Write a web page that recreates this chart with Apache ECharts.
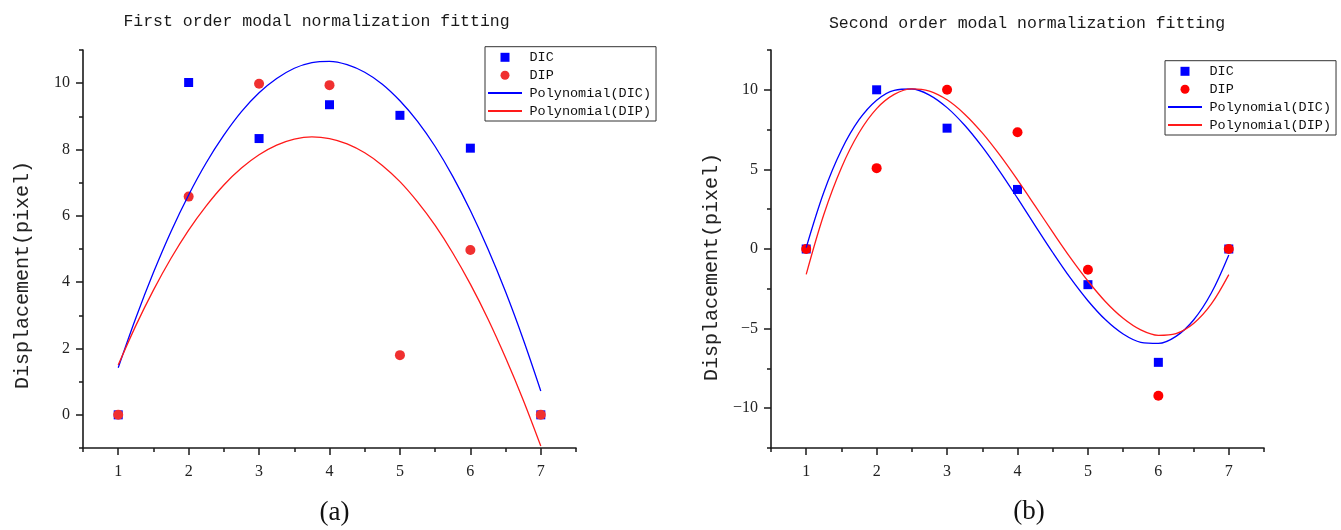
<!DOCTYPE html>
<html>
<head>
<meta charset="utf-8">
<title>Modal normalization fitting</title>
<script src="https://cdn.jsdelivr.net/npm/echarts@6/dist/echarts.min.js"></script>
<style>
  html, body { margin: 0; padding: 0; background: #fff; }
  #chart { width: 1341px; height: 530px; }
</style>
</head>
<body>
<div id="chart"></div>
<script>
// Measurement points (sample index 1..7)
const sampleIndex = [1, 2, 3, 4, 5, 6, 7];

// First order mode: measured displacements (pixel)
const firstDIC = [0, 10.02, 8.33, 9.35, 9.03, 8.04, 0];
const firstDIP = [0, 6.58, 9.98, 9.94, 1.80, 4.97, 0];

// Second order mode: measured displacements (pixel)
const secondDIC = [0, 10.0, 7.59, 3.74, -2.24, -7.12, 0];
const secondDIP = [0, 5.08, 10.0, 7.33, -1.30, -9.22, 0];

// Polynomial fit curves, sampled every 0.25 along the x axis
const fitX = [1, 1.25, 1.5, 1.75, 2, 2.25, 2.5, 2.75, 3, 3.25, 3.5, 3.75, 4,
              4.25, 4.5, 4.75, 5, 5.25, 5.5, 5.75, 6, 6.25, 6.5, 6.75, 7];
const firstFitDIC = [1.42, 2.92, 4.29, 5.53, 6.63, 7.60, 8.43, 9.14, 9.71, 10.14, 10.45, 10.62, 10.66,
                     10.56, 10.33, 9.97, 9.47, 8.85, 8.09, 7.19, 6.16, 5.00, 3.71, 2.28, 0.72];
const firstFitDIP = [1.50, 2.69, 3.76, 4.72, 5.57, 6.30, 6.93, 7.44, 7.84, 8.13, 8.31, 8.38, 8.33,
                     8.17, 7.90, 7.52, 7.03, 6.42, 5.71, 4.88, 3.94, 2.89, 1.72, 0.45, -0.94];
const secondFitDIC = [0.09, 3.57, 6.22, 8.12, 9.35, 9.97, 10.05, 9.67, 8.88, 7.77, 6.41, 4.86, 3.19,
                      1.47, -0.22, -1.82, -3.25, -4.45, -5.34, -5.86, -5.93, -5.49, -4.46, -2.78, -0.37];
const secondFitDIP = [-1.59, 2.17, 5.11, 7.30, 8.82, 9.71, 10.06, 9.92, 9.37, 8.47, 7.29, 5.89, 4.34,
                      2.71, 1.06, -0.54, -2.01, -3.31, -4.35, -5.08, -5.42, -5.31, -4.68, -3.47, -1.61];

// Tick positions
const xMajorTicks = [1, 2, 3, 4, 5, 6, 7];
const xMinorTicks = [0.5, 1.5, 2.5, 3.5, 4.5, 5.5, 6.5, 7.5];
const firstMajorTicks = [0, 2, 4, 6, 8, 10];
const firstMinorTicks = [-1, 1, 3, 5, 7, 9, 11];
const secondMajorTicks = [-10, -5, 0, 5, 10];
const secondMinorTicks = [-12.5, -7.5, -2.5, 2.5, 7.5, 12.5];

const legendNames = ['DIC', 'DIP', 'Polynomial(DIC)', 'Polynomial(DIP)'];

const INK = '#1a1a1a';
const MONO = '"Liberation Mono", "DejaVu Sans Mono", monospace';
const SERIF = '"Liberation Serif", "DejaVu Serif", serif';
const SQUARE_ICON = 'path://M0,0L10,0L10,10L0,10Z';

const pairs = (xs, ys) => xs.map((x, i) => [x, ys[i]]);
const tickText = v => String(v).replace('-', '\u2212');

// Each grid gets a labelled axis with long ticks and a bare axis with short ticks
function majorAxis(gridIndex, position, min, max, ticks, margin) {
  return {
    type: 'value', gridIndex, position, min, max,
    axisLine: { show: true, onZero: false, lineStyle: { color: INK, width: 1.6 } },
    axisTick: { show: true, customValues: ticks, length: 7, lineStyle: { color: INK, width: 1.5 } },
    axisLabel: {
      customValues: ticks, margin, formatter: tickText,
      fontFamily: SERIF, fontSize: 16, color: '#222'
    },
    splitLine: { show: false }
  };
}
function minorAxis(gridIndex, position, min, max, ticks) {
  return {
    type: 'value', gridIndex, position, min, max,
    axisLine: { show: false, onZero: false },
    axisTick: { show: true, customValues: ticks, length: 4, lineStyle: { color: INK, width: 1.5 } },
    axisLabel: { show: false },
    splitLine: { show: false }
  };
}

function legendAt(left, top, dipColor) {
  return {
    orient: 'vertical', left, top,
    selectedMode: false,
    itemWidth: 34, itemHeight: 9, itemGap: 3.9,
    padding: [3.6, 5, 3, 2],
    borderColor: '#333', borderWidth: 1,
    textStyle: { fontFamily: MONO, fontSize: 13.5, lineHeight: 14, color: '#111', padding: [0, 0, 0, 2.5] },
    data: [
      { name: legendNames[0], icon: SQUARE_ICON },
      { name: legendNames[1], icon: 'circle', itemStyle: { color: dipColor } },
      { name: legendNames[2], itemStyle: { opacity: 0 } },
      { name: legendNames[3], itemStyle: { opacity: 0 } }
    ]
  };
}

function seriesFor(axisIndex, dic, dip, fitDic, fitDip, dipColor, fitDipColor) {
  return [
    {
      name: legendNames[0], type: 'scatter', xAxisIndex: axisIndex, yAxisIndex: axisIndex,
      symbol: 'rect', symbolSize: 9, itemStyle: { color: '#0000ff', opacity: 1 },
      data: pairs(sampleIndex, dic)
    },
    {
      name: legendNames[1], type: 'scatter', xAxisIndex: axisIndex, yAxisIndex: axisIndex,
      symbol: 'circle', symbolSize: 10, itemStyle: { color: dipColor, opacity: 1 },
      data: pairs(sampleIndex, dip)
    },
    {
      name: legendNames[2], type: 'line', xAxisIndex: axisIndex, yAxisIndex: axisIndex,
      symbol: 'none', smooth: 0.35, itemStyle: { color: '#0000ff' },
      lineStyle: { color: '#0000ff', width: 1.3 },
      data: pairs(fitX, fitDic)
    },
    {
      name: legendNames[3], type: 'line', xAxisIndex: axisIndex, yAxisIndex: axisIndex,
      symbol: 'none', smooth: 0.35, itemStyle: { color: fitDipColor },
      lineStyle: { color: fitDipColor, width: 1.3 },
      data: pairs(fitX, fitDip)
    }
  ];
}

const chart = echarts.init(document.getElementById('chart'), null, { renderer: 'canvas' });

chart.setOption({
  animation: false,
  backgroundColor: '#fff',
  title: [
    {
      text: 'First order modal normalization fitting', left: 316.5, top: 13, textAlign: 'center', padding: 0,
      textStyle: { fontFamily: MONO, fontSize: 16.5, fontWeight: 'normal', color: '#1a1a1a' }
    },
    {
      text: 'Second order modal normalization fitting', left: 1027, top: 15.5, textAlign: 'center', padding: 0,
      textStyle: { fontFamily: MONO, fontSize: 16.5, fontWeight: 'normal', color: '#1a1a1a' }
    }
  ],
  grid: [
    { left: 83, top: 50, width: 493, height: 398 },
    { left: 771, top: 50, width: 493, height: 398 }
  ],
  xAxis: [
    majorAxis(0, 'bottom', 0.5, 7.5, xMajorTicks, 15.5),
    minorAxis(0, 'bottom', 0.5, 7.5, xMinorTicks),
    majorAxis(1, 'bottom', 0.5, 7.5, xMajorTicks, 15.5),
    minorAxis(1, 'bottom', 0.5, 7.5, xMinorTicks)
  ],
  yAxis: [
    majorAxis(0, 'left', -1, 11, firstMajorTicks, 13),
    minorAxis(0, 'left', -1, 11, firstMinorTicks),
    majorAxis(1, 'left', -12.5, 12.5, secondMajorTicks, 13),
    minorAxis(1, 'left', -12.5, 12.5, secondMinorTicks)
  ],
  legend: [
    legendAt(485, 46.7, '#f03030'),
    legendAt(1165, 60.7, '#ff0000')
  ],
  graphic: [
    {
      type: 'text', x: 23, y: 275, rotation: Math.PI / 2,
      style: { text: 'Displacement(pixel)', font: '20px ' + MONO, fill: '#222', align: 'center', verticalAlign: 'middle' }
    },
    {
      type: 'text', x: 712, y: 267, rotation: Math.PI / 2,
      style: { text: 'Displacement(pixel)', font: '20px ' + MONO, fill: '#222', align: 'center', verticalAlign: 'middle' }
    },
    {
      type: 'text', x: 334.6, y: 513,
      style: { text: '(a)', font: '27px ' + SERIF, fill: '#111', align: 'center', verticalAlign: 'middle' }
    },
    {
      type: 'text', x: 1029, y: 512,
      style: { text: '(b)', font: '27px ' + SERIF, fill: '#111', align: 'center', verticalAlign: 'middle' }
    }
  ],
  series: [
    ...seriesFor(0, firstDIC, firstDIP, firstFitDIC, firstFitDIP, '#f03030', '#ff1a1a'),
    ...seriesFor(2, secondDIC, secondDIP, secondFitDIC, secondFitDIP, '#ff0000', '#ff1a1a')
  ]
});
</script>
</body>
</html>
